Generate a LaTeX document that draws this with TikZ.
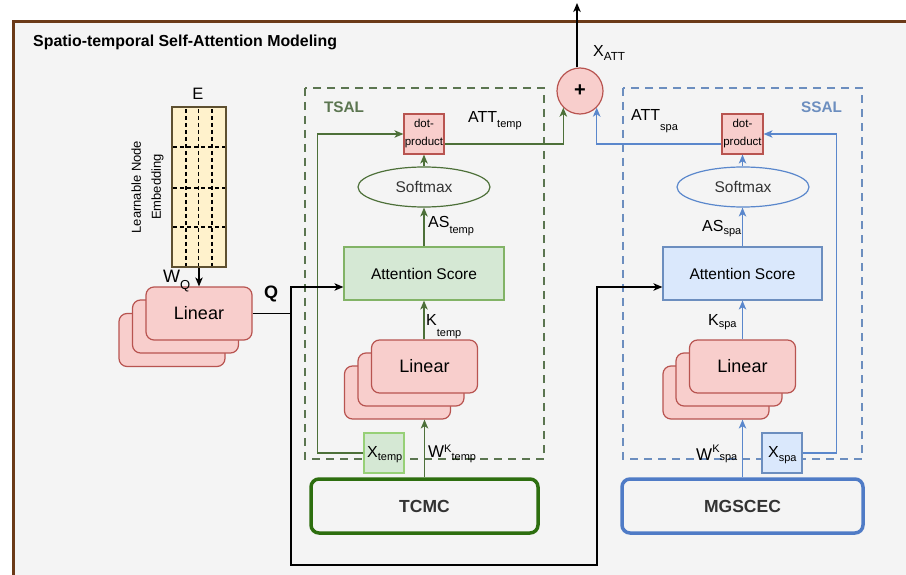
\documentclass[tikz,border=0pt]{standalone}
\usepackage{fontspec}
\setmainfont{Liberation Sans}
\usetikzlibrary{arrows.meta,shapes.geometric}
\definecolor{bgc}{HTML}{F4F4F4}
\definecolor{brownf}{HTML}{6B3A18}
\definecolor{redfill}{HTML}{F8CECC}
\definecolor{redline}{HTML}{B85450}
\definecolor{gfill}{HTML}{D5E8D4}
\definecolor{gline}{HTML}{82B366}
\definecolor{gxline}{HTML}{97D077}
\definecolor{gdark}{HTML}{4D7039}
\definecolor{gdash}{HTML}{5B7550}
\definecolor{gthick}{HTML}{2D6E0F}
\definecolor{bfill}{HTML}{DAE8FC}
\definecolor{bline}{HTML}{6C8EBF}
\definecolor{bdark}{HTML}{5A87CC}
\definecolor{bthick}{HTML}{4F7BC6}
\definecolor{yfill}{HTML}{FFF2CC}
\definecolor{yline}{HTML}{5E5030}
\definecolor{txtgrey}{HTML}{333333}
\newcommand\fs[1]{\fontsize{#1}{#1}\selectfont}
\newcommand\dropsub[2]{\raisebox{-#1}{\fs{11}#2}}
\newcommand\upsup[2]{\raisebox{#1}{\fs{11}#2}}
\tikzset{
  lin/.style={draw=redline, fill=redfill, rounded corners=8pt, minimum width=106pt, minimum height=53pt, line width=1.2pt, inner sep=0pt, font=\fs{18}},
  dotbox/.style={draw=redline, fill=redfill, minimum width=40pt, minimum height=40pt, line width=1.2pt, inner sep=0pt, align=center, font=\fontsize{11.5}{18}\selectfont},
  attbox/.style={minimum width=160pt, minimum height=53pt, line width=1.2pt, inner sep=0pt, font=\fs{15.5}},
  softbox/.style={ellipse, minimum width=132pt, minimum height=40pt, line width=1.2pt, inner sep=0pt, font=\fs{15.5}, text=txtgrey},
  xbox/.style={minimum width=40pt, minimum height=40pt, line width=1.2pt, inner sep=0pt},
  modbox/.style={rounded corners=8pt, minimum height=54pt, line width=3.5pt, inner sep=0pt, fill=bgc, font=\bfseries\fs{17.5}, text=txtgrey},
  region/.style={line width=1.2pt, dash pattern=on 8pt off 6pt},
  lbl/.style={anchor=base west, inner sep=0pt, font=\fs{16}},
  conn/.style={line width=1.3pt, -{Stealth[length=9pt,width=7.5pt,inset=2.5pt]}},
  plain/.style={line width=1.3pt},
  griddash/.style={black, line width=1.3pt, dash pattern=on 4pt off 3pt},
}
\begin{document}
\begin{tikzpicture}[x=1pt,y=-1pt]
\useasboundingbox (0,0) rectangle (906,575);
\clip (0,0) rectangle (906,575);
% outer frame
\draw[brownf, line width=3pt, fill=bgc] (13,21.5) rectangle (930,600);
\node[anchor=base west, inner sep=0pt, font=\bfseries\fs{15.9}] (title) at (33,47) {Spatio-temporal Self-Attention Modeling};

% regions
\draw[region, draw=gdash] (305,88) rectangle (544,459);
\draw[region, draw=bline] (623,88) rectangle (862,459);
\node[inner sep=0pt, font=\bfseries\fs{15.3}, text=gdash] (tsal) at (344,107) {TSAL};
\node[inner sep=0pt, font=\bfseries\fs{15.3}, text=bline] (ssal) at (821.5,107) {SSAL};

% embedding
\node[draw=yline, fill=yfill, line width=1.2pt, minimum width=54pt, minimum height=160pt, inner sep=0pt] (E) at (199,187) {};
\foreach \xx in {186,198.5,212} \draw[griddash] (\xx,109) -- (\xx,266);
\foreach \yy in {147,188,227} \draw[griddash] (173,\yy) -- (225,\yy);
\node[inner sep=0pt, font=\fs{16.5}] (Elbl) at (198,94) {E};
\node[rotate=90, align=center, inner sep=0pt, font=\fontsize{13}{20}\selectfont] (Elong) at (147.5,187) {Learnable Node\\Embedding};

% Q linear stack
\node[lin] (LinQc) at (172,340) {};
\node[lin] (LinQb) at (185.5,326.5) {};
\node[lin] (LinQ) at (199,313.5) {Linear};
\draw[conn] (E.south) -- (LinQ.north);
\node[lbl, font=\fs{18}] (WQ) at (163,283) {W\dropsub{6pt}{\fs{13}Q}};
\node[inner sep=0pt, font=\bfseries\fs{18}] (Qlbl) at (271,294) {Q};

% TSAL
\node[dotbox] (dotT) at (424,134) {dot-\\product};
\node[softbox, draw=gdark] (softT) at (424,187) {Softmax};
\node[attbox, draw=gline, fill=gfill] (attT) at (424,273.5) {Attention Score};
\node[lin] (LinTc) at (397.5,392.5) {};
\node[lin] (LinTb) at (411,379.5) {};
\node[lin] (LinT) at (424.5,366.5) {Linear};
\node[xbox, draw=gxline, fill=gfill] (Xtemp) at (384,453) {};
\node[modbox, draw=gthick, minimum width=227pt] (TCMC) at (424.5,506) {TCMC};

% SSAL
\node[dotbox, minimum width=41pt] (dotS) at (742.5,134) {dot-\\product};
\node[softbox, draw=bdark] (softS) at (743,187) {Softmax};
\node[attbox, draw=bline, fill=bfill, minimum width=159pt] (attS) at (742.5,273.5) {Attention Score};
\node[lin] (LinSc) at (716,392.5) {};
\node[lin] (LinSb) at (729,379.5) {};
\node[lin] (LinS) at (742.5,366.5) {Linear};
\node[xbox, draw=bline, fill=bfill] (Xspa) at (782,453) {};
\node[modbox, draw=bthick, minimum width=241pt] (MGS) at (742.5,506) {MGSCEC};

% plus
\node[circle, draw=redline, fill=redfill, line width=1.2pt, minimum size=46pt, inner sep=0pt, font=\bfseries\fs{20}] (plus) at (580,91) {+};
\coordinate (out) at (577,3);
\draw[conn, black] (plus.north -| out) -- (out);
\node[lbl] (xatt) at (593,57) {X\dropsub{4pt}{\fs{11.7}ATT}};

% TSAL connectors
\draw[conn, gdark] (attT.north) -- (softT.south);
\draw[conn, gdark] (softT.north) -- (dotT.south);
\draw[conn, gdark] (LinT.north -| attT.south) -- (attT.south);
\draw[conn, gdark] (TCMC.north) -- (TCMC.north |- LinTc.south);
\draw[conn, gdark] (Xtemp.west) -- ++(-46,0) |- (dotT.west);
\draw[conn, gdark] ([yshift=-10pt]dotT.east) -| (plus.south west);
\node[lbl] (attTl) at (468,123) {ATT\dropsub{5pt}{temp}};
\node[lbl] (asTl) at (428,228) {AS\dropsub{6pt}{temp}};
\node[lbl] (kTl) at (426,325) {K\dropsub{11pt}{temp}};
\node[lbl, font=\fs{17}] (wTl) at (428,457) {W\upsup{5pt}{K}\dropsub{3pt}{temp}};
\node[lbl] (xTl) at (367,457) {X\dropsub{3pt}{temp}};

% SSAL connectors
\draw[conn, bdark] (attS.north) -- (softS.south -| attS.north);
\draw[conn, bdark] (softS.north -| dotS.south) -- (dotS.south);
\draw[conn, bdark] (LinS.north) -- (attS.south);
\draw[conn, bdark] (MGS.north) -- (MGS.north |- LinSc.south);
\draw[conn, bdark] (Xspa.east) -- ++(34,0) |- (dotS.east);
\draw[conn, bdark] ([yshift=-10pt]dotS.west) -| (plus.south east);
\node[lbl] (attSl) at (631,121) {ATT\dropsub{10pt}{spa}};
\node[lbl] (asSl) at (702,232) {AS\dropsub{3pt}{spa}};
\node[lbl] (kSl) at (708,325) {K\dropsub{2pt}{spa}};
\node[lbl, font=\fs{17}] (wSl) at (696,460) {W\upsup{8pt}{K}\dropsub{0pt}{spa}};
\node[lbl] (xSl) at (768,457) {X\dropsub{4pt}{spa}};

% Q connectors
\coordinate (qj) at (291,313.5);
\coordinate (qb1) at (291,565);
\coordinate (qb2) at (597,565);
\draw[plain, black] (LinQ.east) -- (qj);
\draw[conn, black] (qj) |- ([yshift=-13.5pt]attT.west);
\draw[conn, black] (qj) -- (qb1) -- (qb2) |- ([yshift=-13.5pt]attS.west);
\end{tikzpicture}
\end{document}
